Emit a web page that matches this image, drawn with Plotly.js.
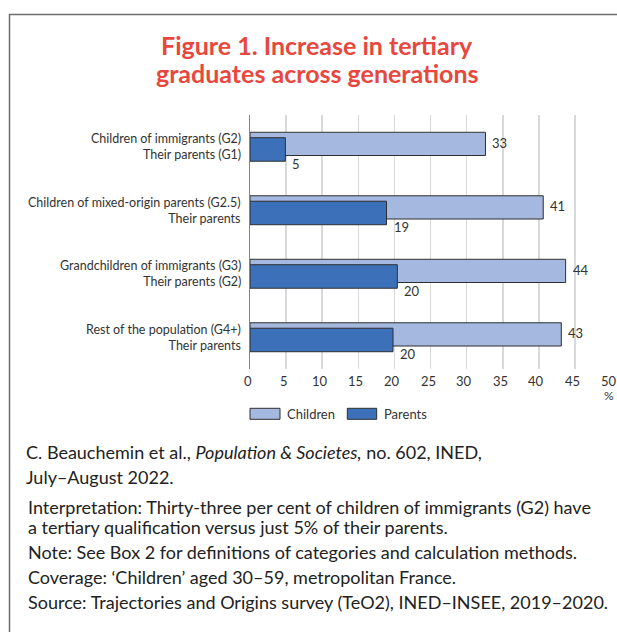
<!DOCTYPE html>
<html>
<head>
<meta charset="utf-8">
<script src="https://cdn.plot.ly/plotly-3.0.1.min.js"></script>
<style>
  html, body { margin: 0; padding: 0; background: #ffffff; }
  #chart { width: 617px; height: 632px; }
</style>
</head>
<body>
<div id="chart"></div>
<script>
// ---- Data ----
const categories = [
  "Children of immigrants (G2)",
  "Children of mixed-origin parents (G2.5)",
  "Grandchildren of immigrants (G3)",
  "Rest of the population (G4+)"
];
const parentLabels = [
  "Their parents (G1)",
  "Their parents",
  "Their parents (G2)",
  "Their parents"
];
const seriesNames = ["Children", "Parents"];
const childrenValues = [32.6, 40.6, 43.7, 43.1];
const parentsValues = [4.9, 18.9, 20.4, 19.8];
const xTickVals = [0, 5, 10, 15, 20, 25, 30, 35, 40, 45, 50];
const xTickText = ["0", "5", "10", "15", "20", "25", "30", "35", "40", "45", "50"];
const titleLines = ["Figure 1. Increase in tertiary", "graduates across generations"];
const footerLines = [
  "C. Beauchemin et al., <i>Population &amp; Societes,</i> no. 602, INED,",
  "July–August 2022.",
  "Interpretation: Thirty-three per cent of children of immigrants (G2) have",
  "a tertiary qualification versus just 5% of their parents.",
  "Note: See Box 2 for definitions of categories and calculation methods.",
  "Coverage: ‘Children’ aged 30–59, metropolitan France.",
  "Source: Trajectories and Origins survey (TeO2), INED–INSEE, 2019–2020."
];

// ---- Styling ----
const W = 617, H = 632;
const M = { l: 250, r: 5, t: 115, b: 263 };
const PW = W - M.l - M.r, PH = H - M.t - M.b;
const X = px => (px - M.l) / PW;
const Y = py => (H - M.b - py) / PH;

const childColor = "#A4B8E0";
const parentColor = "#3C71BA";
const edge = "#2f2f2f";
const textColor = "#333333";
const FONT = "Lato, 'Open Sans', sans-serif";

const traces = [
  {
    type: "bar", orientation: "h", name: seriesNames[0],
    y: categories, x: childrenValues,
    offset: -0.228, width: 0.366,
    marker: { color: childColor, line: { color: edge, width: 1 } },
    hoverinfo: "x"
  },
  {
    type: "bar", orientation: "h", name: seriesNames[1],
    y: categories, x: parentsValues,
    offset: -0.142, width: 0.370,
    marker: { color: parentColor, line: { color: edge, width: 1 } },
    hoverinfo: "x"
  }
];

const annotations = [];
// title (two lines, tighter leading)
const titleCenters = [44.5, 73];
titleLines.forEach((t, i) => {
  annotations.push({
    xref: "paper", yref: "paper", x: X(317), y: Y(titleCenters[i]),
    xanchor: "center", yanchor: "middle", showarrow: false,
    text: t, align: "center",
    font: { family: FONT, size: 25, color: "#E8473E", weight: 700 }
  });
});
// category labels (two lines each, right-aligned at the axis)
categories.forEach((c, i) => {
  annotations.push({
    x: 0, y: c, xref: "x", yref: "y",
    xanchor: "right", yanchor: "middle", xshift: -8, yshift: 0,
    showarrow: false, text: c + "<br>" + parentLabels[i], align: "right", borderpad: 0,
    font: { family: FONT, size: 12.5, color: textColor }
  });
});
// x tick labels (shifted slightly left of the gridlines, as in the source)
xTickVals.forEach((v, i) => {
  annotations.push({
    x: v, y: 0, xref: "x", yref: "paper",
    xanchor: "center", yanchor: "middle", xshift: -2.5, yshift: -11.7,
    showarrow: false, text: xTickText[i], borderpad: 0,
    font: { family: FONT, size: 13, color: textColor }
  });
});
// data labels
categories.forEach((c, i) => {
  annotations.push({
    x: childrenValues[i], y: c, xref: "x", yref: "y",
    xanchor: "left", yanchor: "middle", xshift: 5, yshift: 4,
    showarrow: false, text: String(Math.round(childrenValues[i])),
    font: { family: FONT, size: 13, color: textColor }
  });
  annotations.push({
    x: parentsValues[i], y: c, xref: "x", yref: "y",
    xanchor: "left", yanchor: "middle", xshift: 5, yshift: -17,
    showarrow: false, text: String(Math.round(parentsValues[i])),
    font: { family: FONT, size: 13, color: textColor }
  });
});
// % unit
annotations.push({
  xref: "paper", yref: "paper", x: X(609), y: Y(395),
  xanchor: "center", yanchor: "middle", showarrow: false, text: "%", borderpad: 0,
  font: { family: FONT, size: 12, color: textColor }
});
// legend text
annotations.push({
  xref: "paper", yref: "paper", x: X(284.5), y: Y(413.8),
  xanchor: "left", yanchor: "middle", showarrow: false, text: seriesNames[0],
  font: { family: FONT, size: 13, color: textColor }
});
annotations.push({
  xref: "paper", yref: "paper", x: X(381.5), y: Y(413.8),
  xanchor: "left", yanchor: "middle", showarrow: false, text: seriesNames[1],
  font: { family: FONT, size: 13, color: textColor }
});
// footer
const footerY = [451.7, 476.7, 506.7, 526.7, 551.7, 576.7, 601.7];
const footerX = [24, 24, 26, 26, 26, 26, 26];
footerLines.forEach((t, i) => {
  annotations.push({
    xref: "paper", yref: "paper", x: X(footerX[i]), y: Y(footerY[i]),
    xanchor: "left", yanchor: "middle", showarrow: false, text: t, align: "left",
    font: { family: FONT, size: 18, color: "#222222" }
  });
});

const shapes = [
  // outer frame
  { type: "rect", xref: "paper", yref: "paper",
    x0: X(9.5), x1: X(700), y0: Y(14.5), y1: Y(700),
    line: { color: "#6e6e6e", width: 1.5 }, fillcolor: "rgba(0,0,0,0)", layer: "below" },
  // legend swatches
  { type: "rect", xref: "paper", yref: "paper",
    x0: X(250), x1: X(280), y0: Y(419.3), y1: Y(408.3),
    line: { color: edge, width: 1 }, fillcolor: childColor },
  { type: "rect", xref: "paper", yref: "paper",
    x0: X(347.3), x1: X(376.7), y0: Y(419.3), y1: Y(408.3),
    line: { color: edge, width: 1 }, fillcolor: parentColor }
];

const layout = {
  width: W, height: H,
  margin: { l: M.l, r: M.r, t: M.t, b: M.b, pad: 0 },
  paper_bgcolor: "#ffffff", plot_bgcolor: "#ffffff",
  font: { family: FONT, size: 12, color: textColor },
  showlegend: false,
  barmode: "overlay",
  xaxis: {
    range: [0, 50.12], tickvals: xTickVals, ticktext: xTickText,
    showgrid: true, gridcolor: "#D9D9D9", gridwidth: 1.5,
    zeroline: false, showline: false, ticks: "", showticklabels: false,
    fixedrange: true
  },
  yaxis: {
    type: "category", categoryorder: "array", categoryarray: categories,
    range: [3.5, -0.5],
    showgrid: false, zeroline: false,
    showline: true, linecolor: "#858585", linewidth: 1.5,
    ticks: "", showticklabels: false,
    fixedrange: true
  },
  annotations: annotations,
  shapes: shapes
};

Plotly.newPlot("chart", traces, layout, { displayModeBar: false, staticPlot: true });
</script>
</body>
</html>
